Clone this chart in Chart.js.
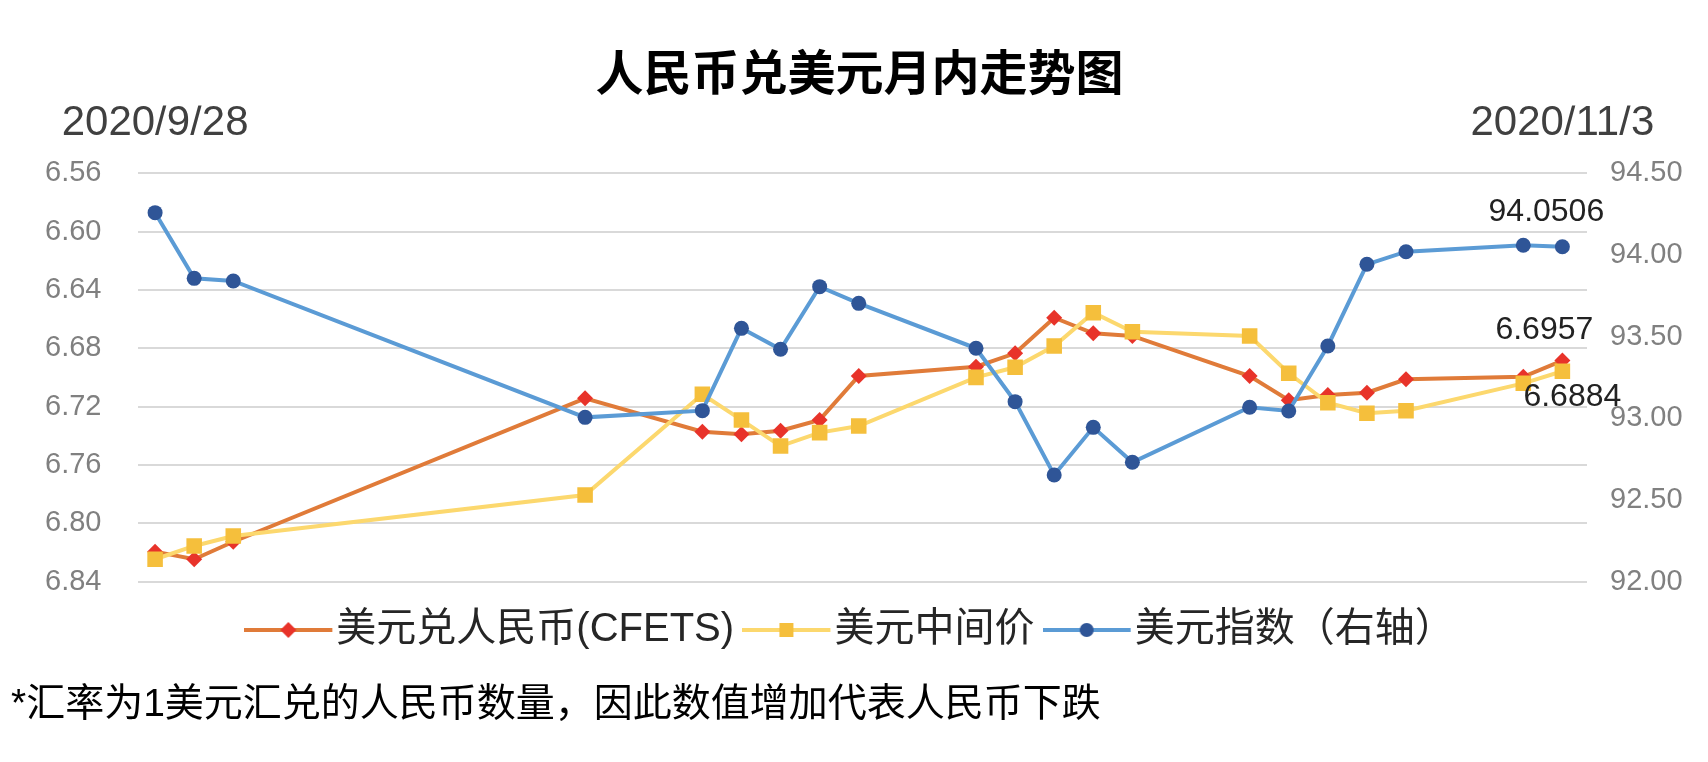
<!DOCTYPE html>
<html>
<head>
<meta charset="utf-8">
<script src="https://cdn.jsdelivr.net/npm/chart.js@4/dist/chart.umd.min.js"></script>
<style>
  body { margin: 0; background: #fff; }
  canvas { display: block; }
</style>
</head>
<body>
<canvas id="rmbChart" width="1708" height="762"></canvas>
<script>
// trading days shown on the chart
const dates = ['2020-09-28', '2020-09-29', '2020-09-30', '2020-10-09', '2020-10-12', '2020-10-13',
  '2020-10-14', '2020-10-15', '2020-10-16', '2020-10-19', '2020-10-20', '2020-10-21', '2020-10-22',
  '2020-10-23', '2020-10-26', '2020-10-27', '2020-10-28', '2020-10-29', '2020-10-30', '2020-11-02', '2020-11-03'];

// 美元兑人民币(CFETS)
const cfets = [6.8194, 6.8246, 6.8126, 6.7143, 6.7372, 6.7389, 6.7365, 6.7291, 6.6990, 6.6926, 6.6834,
  6.6590, 6.6697, 6.6715, 6.6990, 6.7156, 6.7120, 6.7104, 6.7012, 6.6995, 6.6884];
// 美元中间价
const midpoint = [6.8246, 6.8155, 6.8087, 6.7806, 6.7115, 6.7291, 6.7470, 6.7378, 6.7333, 6.6999, 6.6930,
  6.6784, 6.6556, 6.6686, 6.6715, 6.6971, 6.7173, 6.7245, 6.7228, 6.7040, 6.6957];
// 美元指数（右轴）
const dxy = [94.259, 93.857, 93.841, 93.006, 93.047, 93.551, 93.423, 93.806, 93.704, 93.429, 93.102,
  92.653, 92.945, 92.731, 93.068, 93.045, 93.443, 93.943, 94.020, 94.060, 94.0506];

const leftTicks = [6.56, 6.84, 0.04];   // min, max, step (reversed axis)
const rightTicks = [92, 94.5, 0.5];

const t0 = Date.parse(dates[0]);
const days = dates.map(d => Math.round((Date.parse(d) - t0) / 86400000));
const pts = vals => vals.map((v, i) => ({ x: days[i], y: v }));

function fmtDay(n) {
  const d = new Date(t0 + n * 86400000);
  return d.getUTCFullYear() + '/' + (d.getUTCMonth() + 1) + '/' + d.getUTCDate();
}

// legend swatch: line with the marker in the middle
function swatch(lineColor, markColor, shape) {
  const c = document.createElement('canvas');
  c.width = 92; c.height = 26;
  const g = c.getContext('2d');
  g.strokeStyle = lineColor; g.lineWidth = 4;
  g.beginPath(); g.moveTo(0, 13); g.lineTo(88, 13); g.stroke();
  g.fillStyle = markColor;
  g.beginPath();
  if (shape === 'circle') g.arc(44, 13, 7, 0, Math.PI * 2);
  else if (shape === 'rect') g.rect(37, 6, 14, 14);
  else { g.moveTo(44, 5); g.lineTo(52, 13); g.lineTo(44, 21); g.lineTo(36, 13); g.closePath(); }
  g.fill();
  return c;
}
const swatches = [
  swatch('#E07B39', '#E8332A', 'diamond'),
  swatch('#FCD86E', '#F5BF3C', 'rect'),
  swatch('#5B9BD5', '#2F5597', 'circle')
];

const endLabels = {
  id: 'endLabels',
  afterDatasetsDraw(chart, args, opts) {
    const ctx = chart.ctx;
    ctx.save();
    ctx.font = '32px "Liberation Sans", sans-serif';
    ctx.fillStyle = '#222';
    ctx.textAlign = 'center';
    ctx.textBaseline = 'middle';
    opts.items.forEach(it => {
      const data = chart.data.datasets[it.ds].data;
      const pt = chart.getDatasetMeta(it.ds).data[data.length - 1];
      ctx.fillText(data[data.length - 1].y.toFixed(4), pt.x + it.dx, pt.y + it.dy);
    });
    ctx.restore();
  }
};

Chart.defaults.font.family = '"Liberation Sans", "Noto Sans CJK SC", sans-serif';

new Chart(document.getElementById('rmbChart'), {
  type: 'line',
  plugins: [endLabels],
  data: {
    datasets: [
      {
        label: '美元兑人民币(CFETS)',
        data: pts(cfets),
        yAxisID: 'y',
        borderColor: '#E07B39',
        borderWidth: 4,
        pointStyle: 'rectRot',
        pointRadius: 8,
        pointBorderWidth: 0,
        pointBackgroundColor: '#E8332A',
        order: 3
      },
      {
        label: '美元中间价',
        data: pts(midpoint),
        yAxisID: 'y',
        borderColor: '#FCD86E',
        borderWidth: 4,
        pointStyle: 'rect',
        pointRadius: 11,
        pointBorderWidth: 0,
        pointBackgroundColor: '#F5BF3C',
        order: 2
      },
      {
        label: '美元指数（右轴）',
        data: pts(dxy),
        yAxisID: 'y2',
        borderColor: '#5B9BD5',
        borderWidth: 4,
        pointStyle: 'circle',
        pointRadius: 7.5,
        pointBorderWidth: 0,
        pointBackgroundColor: '#2F5597',
        order: 1
      }
    ]
  },
  options: {
    responsive: false,
    animation: false,
    devicePixelRatio: 1,
    layout: { padding: { left: 11, right: 0, top: 0, bottom: 0 } },
    scales: {
      x: {
        type: 'linear',
        position: 'top',
        min: -0.45,
        max: 36.63,
        grid: { display: false, drawTicks: false },
        border: { display: false },
        afterBuildTicks: s => { s.ticks = [{ value: days[0] }, { value: days[days.length - 1] }]; },
        afterFit: s => { s.height = 67.7; },
        ticks: {
          autoSkip: false,
          maxRotation: 0,
          padding: 25,
          color: '#404040',
          font: { size: 42 },
          callback: v => fmtDay(v)
        }
      },
      y: {
        position: 'left',
        reverse: true,
        min: leftTicks[0],
        max: leftTicks[1],
        afterFit: s => { s.width = 126.5; },
        grid: { color: '#D9D9D9', lineWidth: 2, drawTicks: false },
        border: { display: false },
        ticks: {
          stepSize: leftTicks[2],
          padding: 36,
          color: '#808080',
          font: { size: 29 },
          callback: v => Number(v).toFixed(2)
        }
      },
      y2: {
        position: 'right',
        min: rightTicks[0],
        max: rightTicks[1],
        afterFit: s => { s.width = 121; },
        grid: { display: false, drawTicks: false },
        border: { display: false },
        ticks: {
          stepSize: rightTicks[2],
          padding: 23,
          color: '#808080',
          font: { size: 29 },
          callback: v => Number(v).toFixed(2)
        }
      }
    },
    plugins: {
      title: {
        display: true,
        text: '人民币兑美元月内走势图',
        color: '#000',
        font: { size: 48, weight: 'bold', lineHeight: 1.2 },
        padding: { top: 48, bottom: 0 }
      },
      subtitle: {
        display: true,
        position: 'bottom',
        align: 'start',
        text: '*汇率为1美元汇兑的人民币数量，因此数值增加代表人民币下跌',
        color: '#000',
        font: { size: 39, lineHeight: 1.2 },
        padding: { top: 21.6, bottom: 33.6 }
      },
      legend: {
        position: 'bottom',
        labels: {
          usePointStyle: true,
          pointStyleWidth: 52,
          padding: 28.3,
          color: '#262626',
          font: { size: 40 },
          sort: (a, b) => a.datasetIndex - b.datasetIndex,
          generateLabels(chart) {
            const items = Chart.defaults.plugins.legend.labels.generateLabels(chart);
            items.forEach(it => { it.pointStyle = swatches[it.datasetIndex]; });
            return items;
          }
        }
      },
      tooltip: { enabled: false },
      endLabels: {
        items: [
          { ds: 2, dx: -16, dy: -35 },
          { ds: 1, dx: -18, dy: -41 },
          { ds: 0, dx: 10, dy: 37 }
        ]
      }
    }
  }
});
</script>
</body>
</html>
